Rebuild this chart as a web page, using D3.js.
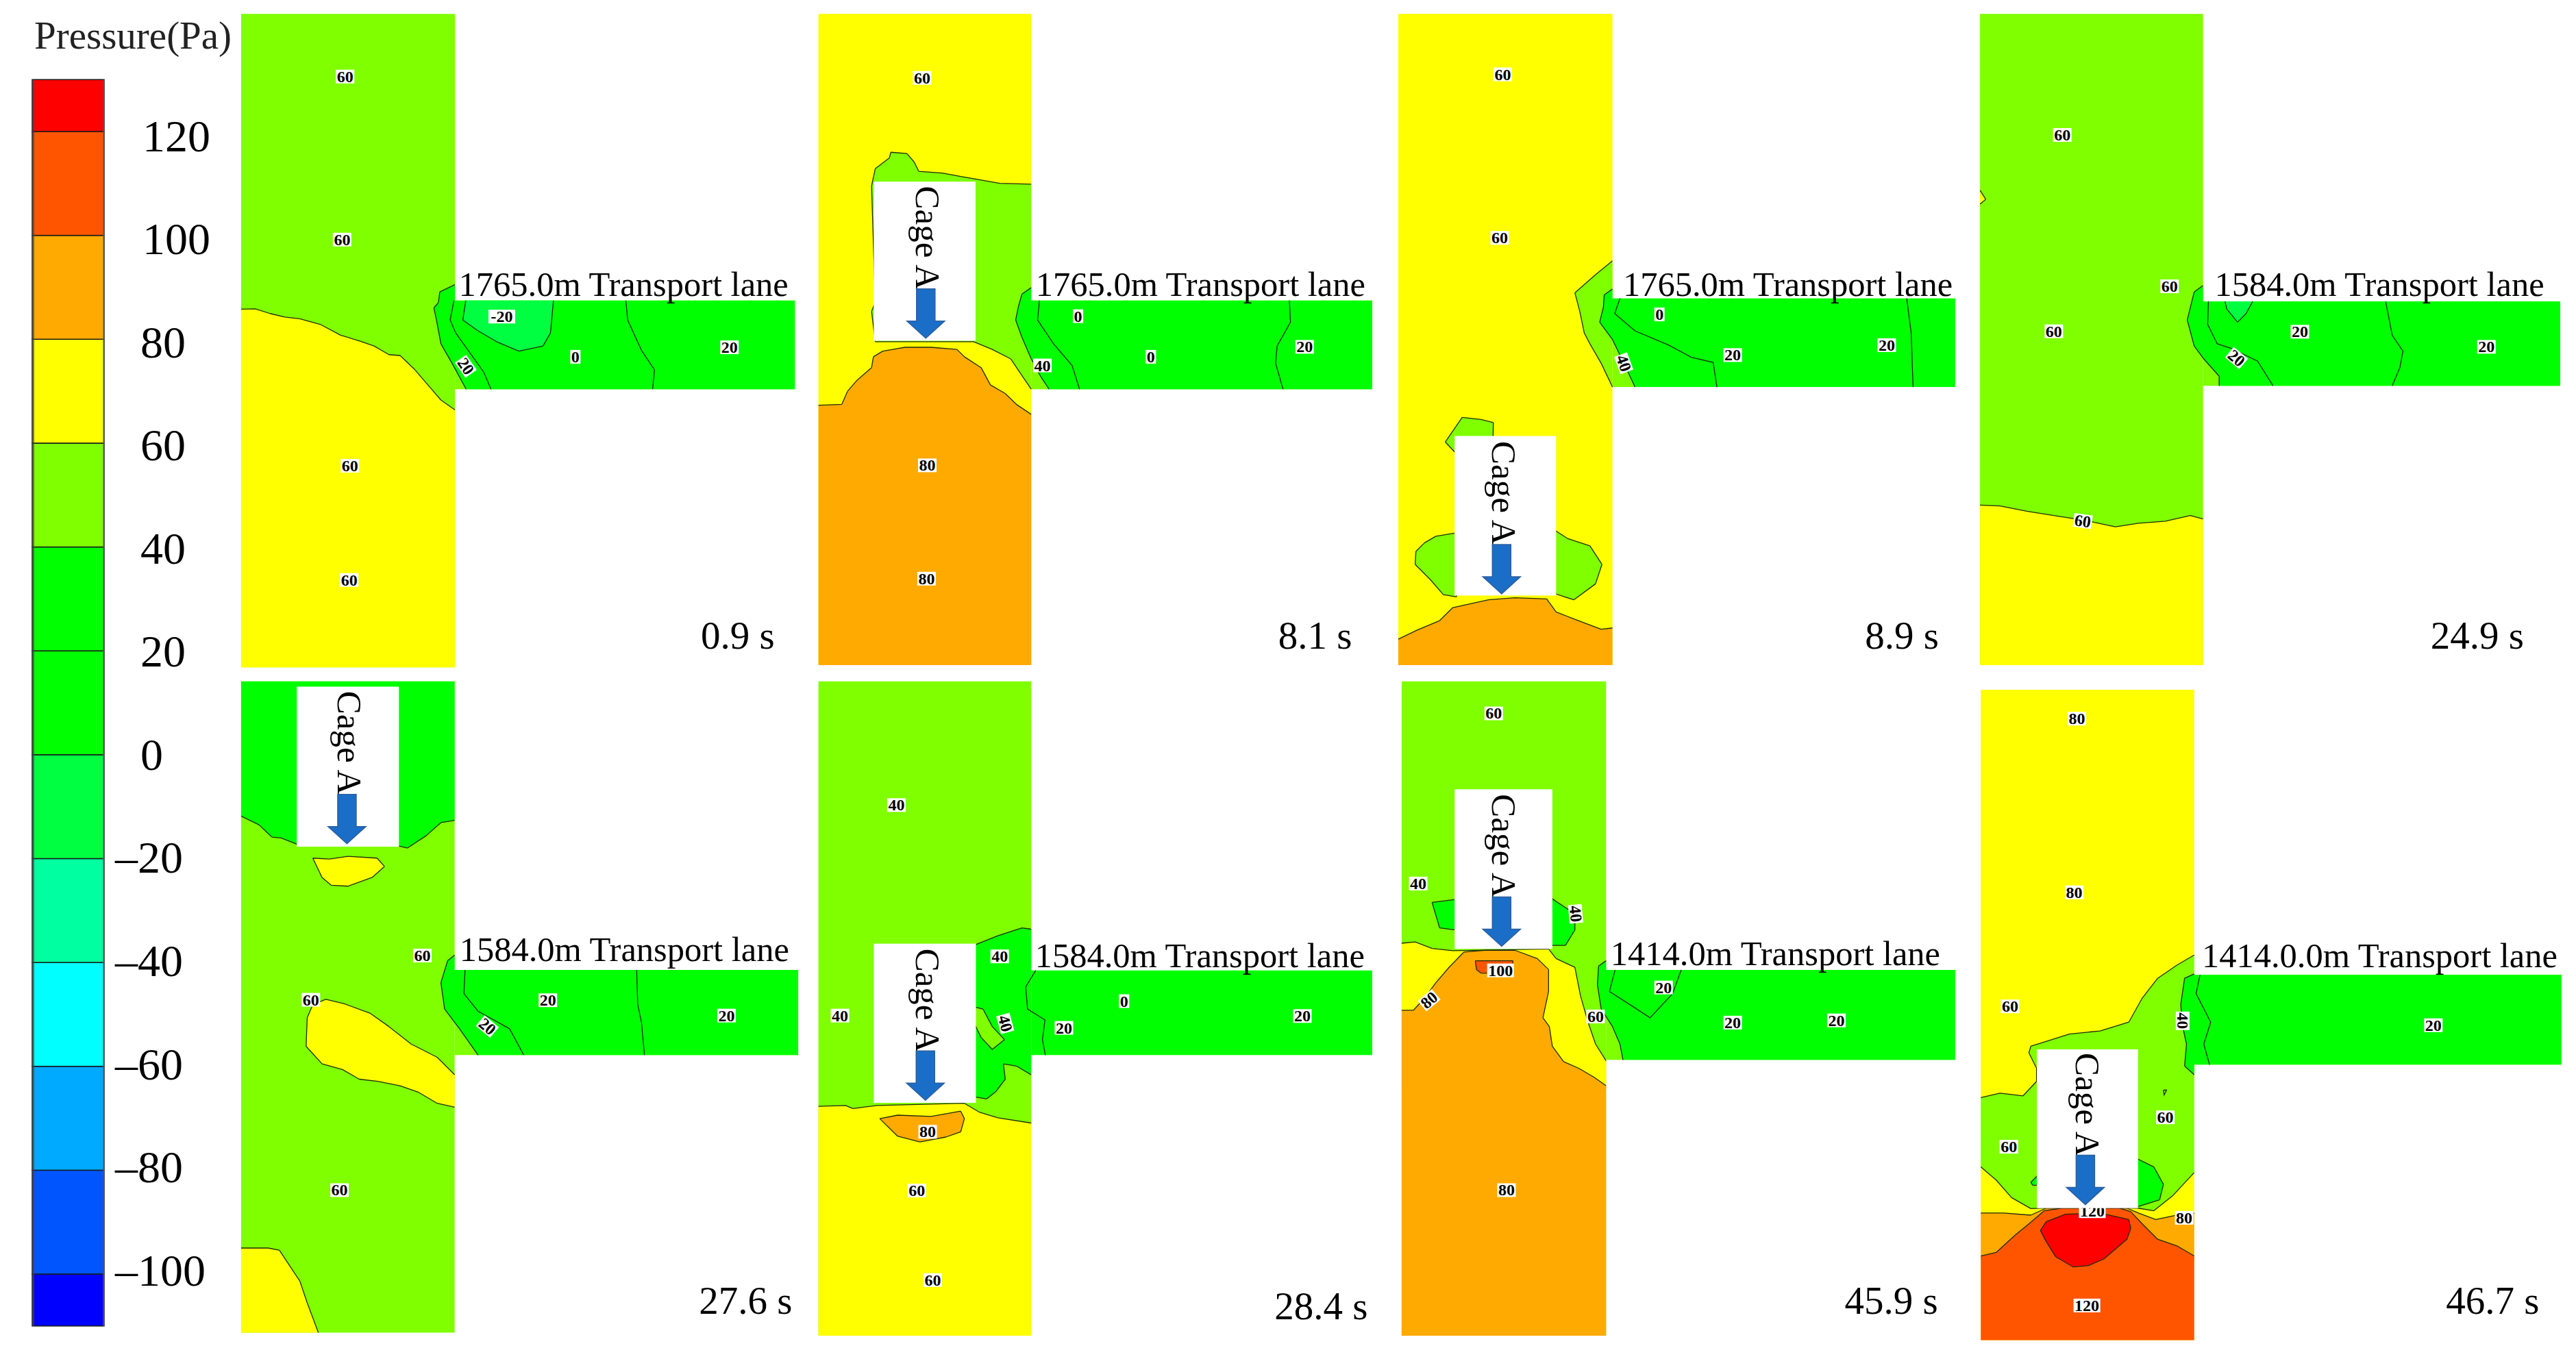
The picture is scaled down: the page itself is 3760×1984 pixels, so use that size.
<!DOCTYPE html>
<html>
<head>
<meta charset="utf-8">
<script src="https://cdnjs.cloudflare.com/ajax/libs/d3/7.8.5/d3.min.js"></script>
<style>
  body { margin: 0; background: #fff; }
  text { font-family: "Liberation Serif", "Times New Roman", serif; fill: #000; }
  .contour-label { font-weight: bold; font-size: 24px; text-anchor: middle; }
</style>
</head>
<body>
<svg id="chart" width="3760" height="1984"></svg>
<script>
const width = 3760;
const height = 1984;

/* DATA */
// pressure levels of the legend, bottom to top
const levels = [-100, -80, -60, -40, -20, 0, 20, 40, 60, 80, 100, 120];
const levelColors = ["#0000ff", "#0055ff", "#00aaff", "#00ffff", "#00ffa0", "#00ff40", "#00ff00",
  "#00ff00", "#7fff00", "#ffff00", "#ffaa00", "#ff5500", "#ff0000"];
const pressureRange = [-110, 130];

const times = ["0.9 s", "8.1 s", "8.9 s", "24.9 s", "27.6 s", "28.4 s", "45.9 s", "46.7 s"];
const laneNames = ["1765.0m Transport lane", "1765.0m Transport lane", "1765.0m Transport lane",
  "1584.0m Transport lane", "1584.0m Transport lane", "1584.0m Transport lane",
  "1414.0m Transport lane", "1414.0.0m Transport lane"];

// geometry below is in model grid units, each panel spans 0-1568 on both axes
const shafts = [[22, 598, 32, 1543], [27, 600, 32, 1538], [20, 590, 32, 1538], [18, 598, 32, 1538],
  [22, 597, 23, 1508], [27, 600, 23, 1515], [29, 573, 23, 1515], [20, 575, 42, 1525]];
const lanes = [[598, 1513, 695, 900], [600, 1518, 695, 900], [590, 1502, 690, 895], [598, 1527, 697, 892],
  [597, 1522, 681, 875], [600, 1518, 682, 875], [573, 1502, 681, 886], [575, 1530, 692, 897]];
const shaftPressure = [50, 70, 70, 50, 50, 50, 50, 70];
const lanePressure = [50, 50, 50, 50, 50, 30, 50, 50];

// cage: left, right, top, bottom, arrow tip x, arrow tip y, text x, text y
const cages = [null, [176, 450, 420, 788, 316, 782, 290, 430], [170, 440, 1008, 1377, 295, 1373, 270, 1020], null,
  [172, 447, 35, 400, 307, 393, 283, 45], [176, 451, 621, 984, 315, 978, 290, 632],
  [170, 430, 269, 633, 295, 627, 270, 280], [166, 429, 862, 1224, 292, 1216, 268, 870]];

const regions0 = [
  { p: 70, pts: [[22, 715], [60, 714], [100, 725], [140, 733], [180, 737], [235, 750], [290, 775], [340, 788], [380, 800], [420, 820], [450, 822], [490, 855], [530, 895], [560, 925], [598, 948], [598, 1543], [22, 1543]] },
  { p: 30, pts: [[598, 658], [557, 675], [553, 700], [541, 712], [548, 740], [560, 795], [590, 840], [628, 900], [1513, 900], [1513, 695], [598, 695]] },
  { p: -10, pts: [[627, 695], [619, 740], [660, 765], [710, 790], [770, 812], [835, 800], [855, 770], [863, 695]] }
];
const lines0 = [
  [[595, 695], [585, 740], [600, 770], [650, 830], [675, 860], [695, 900]],
  [[1058, 695], [1063, 740], [1100, 810], [1135, 855], [1130, 900]]
];
const labels0 = [["60", 302, 177], ["60", 294, 554], ["60", 315, 1077], ["60", 313, 1341], ["-20", 724, 732],
  ["0", 922, 825], ["20", 1337, 803], ["20", 627, 847, 55]];

const regions1 = [
  { p: 50, pts: [[170, 430], [180, 390], [218, 365], [222, 352], [265, 355], [285, 375], [297, 396], [360, 400], [410, 408], [450, 414], [515, 424], [600, 426], [600, 900], [580, 875], [545, 830], [495, 808], [445, 790], [180, 790], [170, 720], [180, 700]] },
  { p: 30, pts: [[600, 665], [575, 680], [565, 710], [558, 740], [575, 780], [600, 830], [625, 870], [648, 900], [1518, 900], [1518, 695], [600, 695]] },
  { p: 90, pts: [[27, 937], [90, 935], [105, 905], [130, 880], [170, 850], [175, 825], [200, 812], [260, 803], [330, 803], [400, 808], [420, 825], [465, 850], [490, 890], [530, 910], [560, 935], [600, 958], [600, 1538], [27, 1538]] }
];
const lines1 = [
  [[622, 695], [617, 740], [660, 795], [710, 845], [730, 900]],
  [[1295, 695], [1298, 745], [1262, 800], [1258, 840], [1278, 900]]
];
const labels1 = [["60", 306, 180], ["80", 320, 1076], ["80", 318, 1338], ["0", 726, 731], ["0", 922, 825],
  ["20", 1336, 802], ["40", 630, 845]];

const regions2 = [
  { p: 50, pts: [[590, 603], [545, 635], [490, 677], [503, 720], [515, 770], [530, 795], [560, 840], [590, 895], [590, 690]] },
  { p: 30, pts: [[590, 668], [568, 682], [566, 710], [556, 745], [590, 785], [615, 830], [650, 895], [1502, 895], [1502, 690], [590, 690]] },
  { p: 50, pts: [[145, 1022], [190, 965], [240, 970], [273, 977], [272, 1020], [170, 1045]] },
  { p: 50, pts: [[175, 1232], [120, 1240], [90, 1255], [67, 1275], [65, 1305], [105, 1340], [140, 1375], [175, 1380]] },
  { p: 50, pts: [[435, 1225], [470, 1245], [530, 1262], [562, 1305], [545, 1350], [487, 1387], [435, 1372]] },
  { p: 90, pts: [[20, 1478], [70, 1457], [130, 1435], [165, 1405], [260, 1387], [330, 1382], [415, 1385], [440, 1415], [490, 1432], [560, 1455], [590, 1452], [590, 1538], [20, 1538]] }
];
const lines2 = [
  [[610, 690], [596, 725], [650, 765], [740, 798], [800, 826], [858, 838], [868, 895]],
  [[1373, 690], [1385, 770], [1390, 895]]
];
const labels2 = [["60", 298, 172], ["60", 290, 550], ["0", 715, 727], ["20", 910, 821], ["20", 1320, 798], ["40", 620, 840, 70]];

const regions3 = [
  { p: 70, pts: [[18, 1168], [70, 1170], [140, 1182], [210, 1192], [290, 1203], [370, 1218], [430, 1210], [500, 1205], [565, 1192], [598, 1200], [598, 1538], [18, 1538]] },
  { p: 70, pts: [[18, 440], [33, 461], [18, 472]] },
  { p: 30, pts: [[598, 660], [575, 675], [557, 740], [575, 800], [600, 830], [640, 870], [640, 892], [1527, 892], [1527, 697], [598, 697]] },
  { p: -10, pts: [[655, 697], [660, 715], [688, 745], [710, 725], [727, 697]] }
];
const lines3 = [
  [[612, 697], [610, 750], [635, 795], [670, 805], [740, 835], [780, 892]],
  [[1073, 697], [1090, 775], [1118, 812], [1110, 850], [1090, 892]]
];
const labels3 = [["60", 232, 312], ["60", 511, 662], ["60", 210, 766], ["20", 850, 767], ["20", 1335, 802],
  ["20", 685, 828, 40], ["60", 285, 1205, 8]];

const regions4 = [
  { p: 30, pts: [[22, 23], [597, 23], [597, 340], [560, 345], [520, 375], [470, 403], [440, 397], [180, 397], [130, 380], [105, 378], [70, 350], [22, 330]] },
  { p: 70, pts: [[215, 426], [260, 428], [310, 422], [388, 426], [408, 445], [375, 470], [310, 490], [265, 488], [240, 470]] },
  { p: 70, pts: [[200, 790], [215, 760], [250, 748], [300, 758], [370, 780], [420, 810], [480, 850], [550, 880], [597, 920], [597, 994], [550, 985], [500, 960], [450, 945], [390, 935], [340, 930], [295, 908], [240, 895], [197, 855]] },
  { p: 70, pts: [[22, 1315], [95, 1315], [125, 1320], [180, 1390], [200, 1440], [230, 1508], [22, 1508]] },
  { p: 30, pts: [[597, 647], [578, 660], [560, 710], [570, 770], [610, 815], [660, 875], [1522, 875], [1522, 681], [597, 681]] }
];
const lines4 = [
  [[625, 681], [622, 735], [660, 775], [745, 815], [783, 875]],
  [[1087, 681], [1090, 760], [1100, 800], [1108, 875]]
];
const labels4 = [["60", 510, 648], ["60", 210, 749], ["60", 287, 1183], ["20", 848, 750], ["20", 1329, 785], ["20", 685, 810, 40]];

const regions5 = [
  { p: 70, pts: [[27, 992], [100, 990], [120, 997], [185, 990], [420, 985], [460, 1005], [510, 1018], [600, 1030], [600, 1515], [27, 1515]] },
  { p: 30, pts: [[445, 625], [510, 603], [575, 585], [600, 588], [600, 920], [560, 900], [525, 895], [530, 930], [505, 958], [480, 975], [445, 970]] },
  { p: 50, pts: [[445, 765], [470, 770], [495, 810], [528, 840], [495, 862], [465, 835], [445, 800]] },
  { p: 90, pts: [[192, 1020], [240, 1012], [330, 1015], [410, 1003], [420, 1020], [410, 1050], [370, 1062], [300, 1073], [240, 1060]] }
];
const lines5 = [
  [[612, 682], [585, 720], [590, 770], [637, 795], [630, 840], [638, 875]]
];
const labels5 = [["40", 237, 305], ["40", 515, 650], ["40", 85, 785], ["40", 530, 803, 75], ["20", 688, 813], ["0", 850, 752],
  ["20", 1330, 786], ["80", 321, 1050], ["60", 292, 1184], ["60", 335, 1388]];

const regions6 = [
  { p: 70, pts: [[29, 620], [65, 617], [110, 632], [165, 637], [420, 633], [440, 655], [490, 675], [505, 740], [525, 800], [545, 850], [573, 888], [573, 950], [29, 950]] },
  { p: 90, pts: [[29, 773], [60, 773], [90, 745], [120, 710], [155, 675], [195, 640], [250, 636], [330, 636], [390, 655], [420, 680], [420, 730], [405, 790], [422, 810], [430, 855], [460, 890], [500, 905], [540, 925], [573, 945], [573, 1515], [29, 1515]] },
  { p: 110, pts: [[225, 660], [325, 660], [325, 690], [240, 688], [228, 680]] },
  { p: 30, pts: [[175, 520], [110, 527], [130, 585], [175, 590]] },
  { p: 30, pts: [[425, 516], [490, 553], [490, 590], [465, 625], [425, 625]] },
  { p: 30, pts: [[573, 660], [553, 672], [550, 715], [560, 770], [590, 810], [610, 850], [618, 886], [1502, 886], [1502, 681], [573, 681]] }
];
const lines6 = [
  [[597, 681], [582, 730], [640, 762], [690, 790], [750, 735], [773, 681]]
];
const labels6 = [["60", 274, 96], ["40", 73, 484], ["40", 492, 553, 85], ["100", 292, 682], ["80", 102, 750, -40], ["60", 545, 787],
  ["20", 726, 721], ["20", 910, 801], ["20", 1186, 796], ["80", 308, 1183]];

const regions7 = [
  { p: 50, pts: [[575, 647], [530, 670], [480, 700], [440, 745], [405, 800], [330, 820], [250, 827], [150, 855], [145, 870], [165, 905], [165, 935], [130, 968], [70, 962], [20, 972], [20, 1130], [60, 1160], [100, 1200], [150, 1225], [250, 1222], [429, 1224], [470, 1230], [520, 1195], [575, 1143]] },
  { p: 30, pts: [[424, 1110], [470, 1130], [495, 1170], [485, 1205], [424, 1222]] },
  { p: 30, pts: [[170, 1148], [150, 1165], [155, 1172], [170, 1172]] },
  { p: 30, pts: [[575, 690], [550, 700], [540, 760], [545, 810], [555, 850], [550, 900], [575, 920], [575, 897], [1530, 897], [1530, 692], [575, 692]] },
  { p: 90, pts: [[20, 1235], [80, 1235], [150, 1240], [190, 1224], [400, 1224], [430, 1235], [475, 1250], [530, 1240], [575, 1235], [575, 1340], [20, 1340]] },
  { p: 110, pts: [[20, 1333], [60, 1325], [110, 1285], [145, 1260], [185, 1230], [230, 1224], [380, 1224], [410, 1232], [440, 1260], [480, 1295], [530, 1310], [575, 1333], [575, 1525], [20, 1525]] },
  { p: 130, pts: [[175, 1275], [190, 1255], [240, 1238], [330, 1235], [405, 1250], [410, 1270], [400, 1295], [340, 1340], [300, 1355], [260, 1358], [215, 1335], [190, 1300]] }
];
const lines7 = [
  [[590, 692], [580, 735], [618, 800], [600, 850], [615, 897]],
  [[495, 955], [503, 955], [497, 966], [495, 955]]
];
const labels7 = [["80", 270, 108], ["80", 263, 504], ["60", 96, 764], ["40", 545, 797, 90], ["20", 1197, 807], ["60", 500, 1017],
  ["60", 93, 1084], ["120", 310, 1231], ["80", 549, 1246], ["120", 296, 1446]];

const allRegions = [regions0, regions1, regions2, regions3, regions4, regions5, regions6, regions7];
const allLines = [lines0, lines1, lines2, lines3, lines4, lines5, lines6, lines7];
const allLabels = [labels0, labels1, labels2, labels3, labels4, labels5, labels6, labels7];


/* LAYOUT */
const gridSize = 1568;
// left edge, top edge, width and height of each panel on the page
const panelBoxes = [[340, 0, 850, 990], [1180, 0, 850, 990], [2030, 0, 860, 990], [2880, 0, 880, 990],
  [340, 980, 850, 1004], [1180, 980, 850, 1004], [2030, 980, 860, 1004], [2880, 980, 880, 1004]];
const titleSpots = [[608, 685], [612, 685], [618, 685], [628, 685], [610, 660], [610, 675], [585, 670], [595, 675]];
const timeSpots = [[1260, 1500], [1265, 1500], [1262, 1500], [1190, 1500], [1255, 1465], [1255, 1478], [1208, 1465], [1230, 1465]];

const svg = d3.select("#chart");
const color = d3.scaleThreshold().domain(levels).range(levelColors);


/* LEGEND */
function drawLegend() {
  const legendY = d3.scaleLinear().domain([120, -100]).range([192, 1860]);
  // the printed numbers sit a little closer together than the bands
  const labelShift = d3.scaleLinear().domain([120, -100]).range([7, -5]);
  const legend = svg.append("g").attr("id", "legend");

  const edges = [pressureRange[0]].concat(levels, pressureRange[1]);

  legend.selectAll("rect.band")
    .data(levelColors)
    .enter()
    .append("rect")
    .attr("class", "band")
    .attr("x", 47)
    .attr("width", 105)
    .attr("y", (d, i) => legendY(edges[i + 1]))
    .attr("height", (d, i) => legendY(edges[i]) - legendY(edges[i + 1]))
    .attr("fill", d => d)
    .attr("stroke", "#1a1a1a")
    .attr("stroke-width", 1.5);

  // soft dark sides of the bar
  legend.append("rect").attr("x", 47).attr("y", legendY(130)).attr("width", 3)
    .attr("height", legendY(-110) - legendY(130)).attr("fill", "#444").attr("opacity", 0.7);
  legend.append("rect").attr("x", 150).attr("y", legendY(130)).attr("width", 3)
    .attr("height", legendY(-110) - legendY(130)).attr("fill", "#666").attr("opacity", 0.6);

  const axis = d3.axisRight(legendY)
    .tickValues(levels)
    .tickSize(0)
    .tickPadding(0)
    .tickFormat(d => (d < 0 ? "\u2013" + Math.abs(d) : String(d)));

  const axisGroup = legend.append("g")
    .attr("transform", "translate(205,0)")
    .call(axis);

  axisGroup.select(".domain").remove();
  axisGroup.selectAll("text")
    .style("font-size", "66px")
    .attr("text-anchor", "start")
    .attr("fill", "#000")
    .attr("x", d => (d < 0 ? -37 : d >= 100 ? 3 : 0))
    .attr("y", d => labelShift(d));

  legend.append("text")
    .attr("x", 50)
    .attr("y", 71)
    .style("font-size", "57px")
    .style("fill", "#222")
    .text("Pressure(Pa)");
}


/* PANELS */
function drawPanel(i) {
  const box = panelBoxes[i];
  const x = d3.scaleLinear().domain([0, gridSize]).range([box[0], box[0] + box[2]]);
  const y = d3.scaleLinear().domain([0, gridSize]).range([box[1], box[1] + box[3]]);
  const line = d3.line().x(d => x(d[0])).y(d => y(d[1]));

  const s = shafts[i];
  const l = lanes[i];
  const edgeX = [s[0], s[1], l[1]];
  const edgeY = [s[2], s[3], l[2], l[3]];

  const panel = svg.append("g").attr("id", "panel-" + i);

  panel.append("path")
    .attr("d", line([[l[0], l[2]], [l[1], l[2]], [l[1], l[3]], [l[0], l[3]]]) + "Z")
    .attr("fill", color(lanePressure[i]));
  panel.append("path")
    .attr("d", line([[s[0], s[2]], [s[1], s[2]], [s[1], s[3]], [s[0], s[3]]]) + "Z")
    .attr("fill", color(shaftPressure[i]));

  // fill and contour go in paint order, so a later region hides earlier lines
  allRegions[i].forEach(region => {
    panel.append("path")
      .attr("d", line(region.pts) + "Z")
      .attr("fill", color(region.p));

    let contour = "";
    region.pts.forEach((a, k) => {
      const b = region.pts[(k + 1) % region.pts.length];
      const alongX = a[0] === b[0] && edgeX.includes(a[0]);
      const alongY = a[1] === b[1] && edgeY.includes(a[1]);
      if (!alongX && !alongY) contour += line([a, b]);
    });
    panel.append("path")
      .attr("d", contour)
      .attr("fill", "none")
      .attr("stroke", "#1c2a10")
      .attr("stroke-width", 1.3);
  });

  panel.selectAll("path.isoline")
    .data(allLines[i])
    .enter()
    .append("path")
    .attr("class", "isoline")
    .attr("d", line)
    .attr("fill", "none")
    .attr("stroke", "#1c2a10")
    .attr("stroke-width", 1.3);

  const labels = panel.selectAll("g.contour-label")
    .data(allLabels[i])
    .enter()
    .append("g")
    .attr("class", "contour-label")
    .attr("transform", d => translate(x(d[1]), y(d[2])) + " rotate(" + (d[3] || 0) + ")");

  labels.append("rect")
    .attr("x", d => -(d[0].length * 12 + 3) / 2)
    .attr("y", -10)
    .attr("width", d => d[0].length * 12 + 3)
    .attr("height", 20)
    .attr("fill", "#fff");

  labels.append("text")
    .attr("y", 8)
    .text(d => d[0]);

  if (cages[i]) drawCage(panel, cages[i], x, y);

  panel.append("text")
    .attr("x", x(titleSpots[i][0]))
    .attr("y", y(titleSpots[i][1]))
    .style("font-size", "50.5px")
    .text(laneNames[i]);

  panel.append("text")
    .attr("x", x(timeSpots[i][0]))
    .attr("y", y(timeSpots[i][1]))
    .style("font-size", "57px")
    .text(times[i]);
}

function drawCage(panel, c, x, y) {
  panel.append("rect")
    .attr("x", x(c[0]))
    .attr("y", y(c[2]))
    .attr("width", x(c[1]) - x(c[0]))
    .attr("height", y(c[3]) - y(c[2]))
    .attr("fill", "#fff");

  panel.append("text")
    .attr("transform", translate(x(c[6]), y(c[7])) + " rotate(90)")
    .style("font-size", "51px")
    .text("Cage A");

  // arrow, drawn from the tip upwards
  const tipX = x(c[4]);
  const tipY = y(c[5]);
  const arrow = d3.path();
  arrow.moveTo(tipX, tipY);
  arrow.lineTo(tipX - 27.5, tipY - 25);
  arrow.lineTo(tipX - 13.5, tipY - 25);
  arrow.lineTo(tipX - 13.5, tipY - 72);
  arrow.lineTo(tipX + 13.5, tipY - 72);
  arrow.lineTo(tipX + 13.5, tipY - 25);
  arrow.lineTo(tipX + 27.5, tipY - 25);
  arrow.closePath();

  panel.append("path")
    .attr("d", arrow.toString())
    .attr("fill", "#1a6ec8")
    .attr("stroke", "#2b5f9e")
    .attr("stroke-width", 1.5);
}

function translate(x, y) {
  return "translate(" + String(x) + "," + String(y) + ")";
}

drawLegend();
d3.range(8).forEach(drawPanel);
</script>
</body>
</html>
